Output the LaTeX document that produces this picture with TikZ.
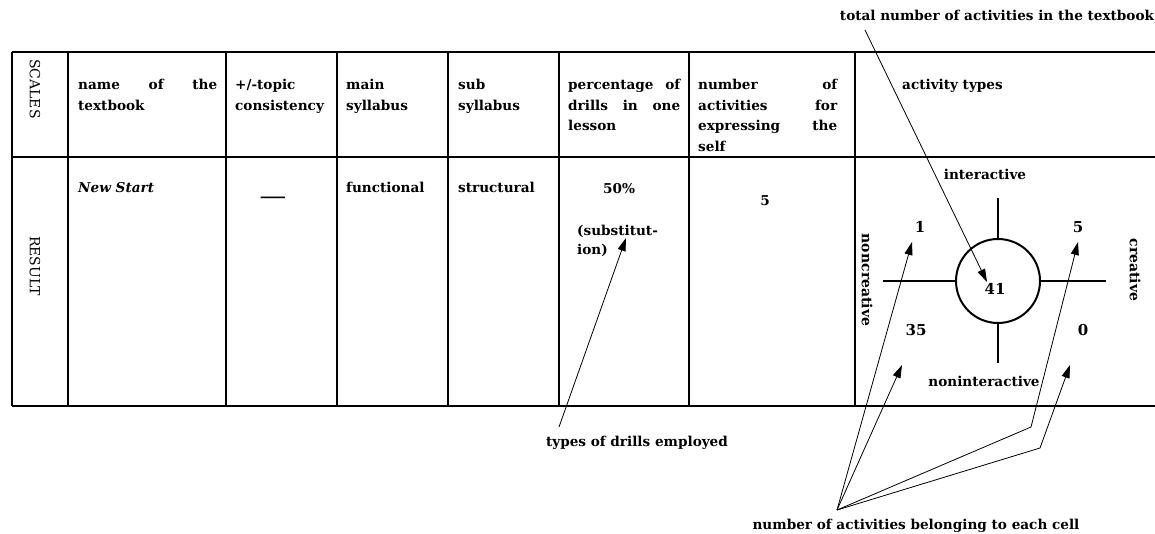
\documentclass[tikz,border=0pt]{standalone}
\usepackage{graphicx}
\usepackage{fontspec}
\setmainfont{DejaVu Serif}
\usepackage{tikz}
\usetikzlibrary{arrows.meta}

\begin{document}
\begin{tikzpicture}[x=1pt,y=-1pt,
every node/.style={inner sep=0pt,font=\bfseries\fontsize{13.6}{20.7}\selectfont},
rule/.style={line width=2pt},
head/.style={anchor=north west,text width=#1,align=justify},
cellfill/.style={anchor=north west,align=left},
side/.style={rotate=-90,font=\fontsize{14}{14}\selectfont},
count/.style={font=\bfseries\fontsize{15}{15}\selectfont},
pointer/.style={line width=0.8pt,-{Triangle[length=13pt,width=8pt]}}
]
\useasboundingbox (0,0) rectangle (1155,533);
\tolerance=10000 \hbadness=10000

% The table
\draw[rule] (12,52) -- (1155,52);
\draw[rule] (12,157) -- (1155,157);
\draw[rule] (12,406) -- (1155,406);
\foreach \x in {12,68,226,337,448,559,689,855}
  \draw[rule] (\x,52) -- (\x,406);

% The header row
\node[side] (scales) at (35,89) {SCALES};
\node[head=139pt] (hname) at (78,79) {name of the\linebreak textbook};
\node[cellfill] (htopic) at (235,79) {+/-topic\\consistency};
\node[cellfill] (hmain) at (346,79) {main\\syllabus};
\node[cellfill] (hsub) at (458,79) {sub\\syllabus};
\node[head=112pt] (hdrill) at (568,79) {percentage of\linebreak drills in one\linebreak lesson};
\node[head=139pt] (hself) at (698,79) {number of\linebreak activities for\linebreak expressing the\linebreak self};
\node[anchor=north west] (htypes) at (902,79) {activity types};

% The result row
\node[side] (result) at (35,266) {RESULT};
\node[anchor=north west,font=\bfseries\itshape\fontsize{13.6}{20.7}\selectfont] (book) at (78,182) {New Start};
\node (topic) at (273,199) {\scalebox{2}[1]{—}};
\node[anchor=north west] (main) at (346,182) {functional};
\node[anchor=north west] (sub) at (458,182) {structural};
\node (perc) at (619,189) {50\%};
\node[cellfill,font=\bfseries\fontsize{13.6}{19}\selectfont] (drill) at (577,225) {(substitut-\\ion)};
\node (selfno) at (765,201) {5};

% The activity cross
\node[circle,draw,rule,minimum size=84pt] (hub) at (998,281) {};
\node[count] (total) at (995,289) {41};
\draw[rule] (883,281) -- (hub.west);
\draw[rule] (hub.east) -- (1106,281);
\draw[rule] (998,198) -- (hub.north);
\draw[rule] (hub.south) -- (998,363);
\node (inter) at (985,174) {interactive};
\node (noninter) at (984,381) {noninteractive};
\node[side,font=\bfseries\fontsize{14}{14}\selectfont] (noncre) at (867,280) {noncreative};
\node[side,font=\bfseries\fontsize{14}{14}\selectfont] (cre) at (1135,270) {creative};
\node[count] (cellA) at (920,227) {1};
\node[count] (cellB) at (1078,227) {5};
\node[count] (cellC) at (916,330) {35};
\node[count] (cellD) at (1083,330) {0};

% The labels
\node (lbltotal) at (997,15) {total number of activities in the textbook};
\node (lbldrill) at (637,443) {types of drills employed};
\node (lblcell) at (916,526) {number of activities belonging to each cell};

\coordinate (fromtotal) at (865,30);
\coordinate (fromdrill) at (559,427);
\coordinate (fromcell) at (837,510);
\coordinate (bendB) at (1031,427);
\coordinate (bendD) at (1040,448);
\coordinate (tipdrill) at (626,238);
\coordinate (tiptotal) at (987,282);
\coordinate (tipA) at (912,242);
\coordinate (tipB) at (1078,242);
\coordinate (tipC) at (902,365);
\coordinate (tipD) at (1070,365);

% The pointers
\draw[pointer] (fromtotal) -- (tiptotal);
\draw[pointer] (fromdrill) -- (tipdrill);
\draw[pointer] (fromcell) -- (tipA);
\draw[pointer] (fromcell) -- (tipC);
\draw[pointer] (fromcell) -- (bendB) -- (tipB);
\draw[pointer] (fromcell) -- (bendD) -- (tipD);
\end{tikzpicture}
\end{document}
